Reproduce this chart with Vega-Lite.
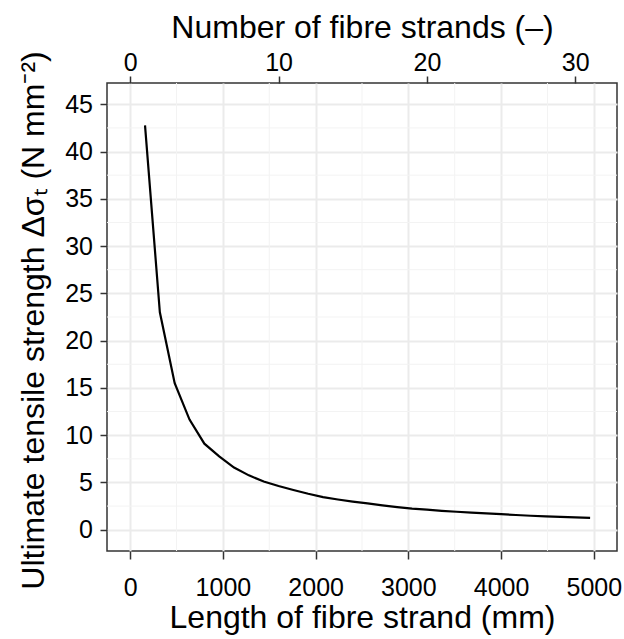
{
  "$schema": "https://vega.github.io/schema/vega-lite/v6.json",
  "width": 510,
  "height": 468,
  "autosize": {"type": "none"},
  "padding": {"left": 107, "top": 83, "right": 7, "bottom": 88},
  "background": "white",
  "config": {
    "view": {"stroke": "#333333", "strokeWidth": 1.5},
    "font": "Liberation Sans",
    "axis": {
      "domain": false,
      "tickColor": "#333333",
      "tickWidth": 1.5,
      "labelFontSize": 25,
      "labelColor": "black",
      "labelFont": "Liberation Sans",
      "titleFont": "Liberation Sans",
      "titleFontSize": 32,
      "titleFontWeight": "normal",
      "titleColor": "black",
      "labelOverlap": false,
      "labelFlush": false,
      "gridColor": "#EBEBEB",
      "gridWidth": 2
    }
  },
  "datasets": {
    "curve": [
      {"n": 1, "length": 160, "strength": 42.76},
      {"n": 2, "length": 320, "strength": 23.0},
      {"n": 3, "length": 480, "strength": 15.5},
      {"n": 4, "length": 640, "strength": 11.65},
      {"n": 5, "length": 800, "strength": 9.1},
      {"n": 6, "length": 960, "strength": 7.75},
      {"n": 7, "length": 1120, "strength": 6.58},
      {"n": 8, "length": 1280, "strength": 5.75},
      {"n": 9, "length": 1440, "strength": 5.1},
      {"n": 10, "length": 1600, "strength": 4.62},
      {"n": 11, "length": 1760, "strength": 4.2},
      {"n": 12, "length": 1920, "strength": 3.8},
      {"n": 13, "length": 2080, "strength": 3.45},
      {"n": 14, "length": 2240, "strength": 3.2},
      {"n": 15, "length": 2400, "strength": 2.98},
      {"n": 16, "length": 2560, "strength": 2.78},
      {"n": 17, "length": 2720, "strength": 2.58},
      {"n": 18, "length": 2880, "strength": 2.4},
      {"n": 19, "length": 3040, "strength": 2.24},
      {"n": 20, "length": 3200, "strength": 2.12},
      {"n": 21, "length": 3360, "strength": 2.0},
      {"n": 22, "length": 3520, "strength": 1.9},
      {"n": 23, "length": 3680, "strength": 1.8},
      {"n": 24, "length": 3840, "strength": 1.72},
      {"n": 25, "length": 4000, "strength": 1.64},
      {"n": 26, "length": 4160, "strength": 1.56},
      {"n": 27, "length": 4320, "strength": 1.48},
      {"n": 28, "length": 4480, "strength": 1.41},
      {"n": 29, "length": 4640, "strength": 1.35},
      {"n": 30, "length": 4800, "strength": 1.3},
      {"n": 31, "length": 4960, "strength": 1.25}
    ],
    "gridx": [
      {"v": 500}, {"v": 1500}, {"v": 2500}, {"v": 3500}, {"v": 4500}
    ],
    "gridy": [
      {"v": 2.5}, {"v": 7.5}, {"v": 12.5}, {"v": 17.5}, {"v": 22.5},
      {"v": 27.5}, {"v": 32.5}, {"v": 37.5}, {"v": 42.5}
    ]
  },
  "layer": [
    {
      "data": {"name": "gridx"},
      "mark": {"type": "rule", "color": "#F3F3F3", "strokeWidth": 1},
      "encoding": {
        "x": {"field": "v", "type": "quantitative", "scale": {"domain": [-250, 5250], "nice": false, "zero": false}, "axis": null}
      }
    },
    {
      "data": {"name": "gridy"},
      "mark": {"type": "rule", "color": "#F3F3F3", "strokeWidth": 1},
      "encoding": {
        "y": {"field": "v", "type": "quantitative", "scale": {"domain": [-2.25, 47.25], "nice": false, "zero": false}, "axis": null}
      }
    },
    {
      "data": {"name": "curve"},
      "mark": {"type": "line", "color": "black", "strokeWidth": 2.2},
      "encoding": {
        "x": {
          "field": "length", "type": "quantitative",
          "scale": {"domain": [-250, 5250], "nice": false, "zero": false},
          "axis": {
            "orient": "bottom",
            "values": [0, 1000, 2000, 3000, 4000, 5000],
            "format": "d",
            "title": "Length of fibre strand (mm)",
            "grid": true,
            "tickSize": 8,
            "labelPadding": 36,
            "labelBaseline": "alphabetic",
            "titleBaseline": "alphabetic",
            "titleY": 76
          }
        },
        "y": {
          "field": "strength", "type": "quantitative",
          "scale": {"domain": [-2.25, 47.25], "nice": false, "zero": false},
          "axis": {
            "orient": "left",
            "values": [0, 5, 10, 15, 20, 25, 30, 35, 40, 45],
            "title": "Ultimate tensile strength Δσₜ (N mm⁻²)",
            "grid": true,
            "tickSize": 7,
            "labelPadding": 7.5,
            "titleBaseline": "alphabetic",
            "titleAngle": -90,
            "titleX": -64,
            "titleY": 237
          }
        }
      }
    },
    {
      "data": {"name": "curve"},
      "mark": {"type": "line", "color": "black", "strokeWidth": 2.2, "opacity": 0},
      "encoding": {
        "x": {
          "field": "n", "type": "quantitative",
          "scale": {"domain": [-1.5625, 32.8125], "nice": false, "zero": false},
          "axis": {
            "orient": "top",
            "values": [0, 10, 20, 30],
            "format": "d",
            "title": "Number of fibre strands (–)",
            "grid": false,
            "tickSize": 7,
            "labelPadding": 6,
            "labelBaseline": "alphabetic",
            "titleBaseline": "alphabetic",
            "titleY": -46
          }
        },
        "y": {
          "field": "strength", "type": "quantitative",
          "scale": {"domain": [-2.25, 47.25], "nice": false, "zero": false},
          "axis": null
        }
      }
    }
  ],
  "resolve": {"scale": {"x": "independent"}, "axis": {"x": "independent", "y": "independent"}}
}
